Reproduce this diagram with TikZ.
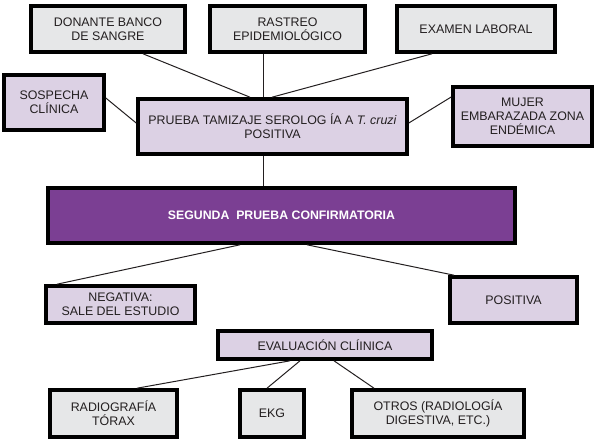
\documentclass[tikz,border=0pt]{standalone}
\usepackage{fontspec}
\setmainfont{Liberation Sans}
\definecolor{boxgray}{HTML}{E6E7E8}
\definecolor{lilac}{HTML}{DCD1E4}
\definecolor{deeppurple}{HTML}{7B3F93}
\definecolor{txt}{HTML}{231F20}
\begin{document}
\begin{tikzpicture}[x=1pt,y=-1pt,
  box/.style={draw=black, line width=3.6pt, rectangle, align=center, inner sep=0pt,
    text=txt, font=\fontsize{12.4}{14}\selectfont},
  graybox/.style={box, fill=boxgray},
  lilbox/.style={box, fill=lilac},
  darkbox/.style={box, fill=deeppurple, text=white, font=\fontsize{12.3}{14}\selectfont\bfseries},
  link/.style={draw=txt, line width=1pt}]
\useasboundingbox (0,0) rectangle (597,441);
\node[graybox, minimum width=154pt, minimum height=46pt] (don) at (108,29) {DONANTE BANCO\\DE SANGRE};
\node[graybox, minimum width=155pt, minimum height=46pt] (ras) at (287.5,29) {RASTREO\\EPIDEMIOLÓGICO};
\node[graybox, minimum width=158pt, minimum height=46pt] (exa) at (476,29) {EXAMEN LABORAL};
\node[lilbox, minimum width=100pt, minimum height=55pt] (sos) at (54,102.5) {SOSPECHA\\CLÍNICA};
\node[lilbox, minimum width=269pt, minimum height=55pt] (pru) at (272.5,126.5) {PRUEBA TAMIZAJE SEROLOG ÍA A \textit{T. cruzi}\\POSITIVA};
\node[lilbox, minimum width=139pt, minimum height=59pt] (muj) at (522.5,116.5) {MUJER\\EMBARAZADA ZONA\\ENDÉMICA};
\node[darkbox, minimum width=467pt, minimum height=55pt] (seg) at (281.5,215.5) {SEGUNDA\ \ PRUEBA CONFIRMATORIA};
\node[lilbox, minimum width=149pt, minimum height=37pt] (neg) at (120.5,304.5) {NEGATIVA:\\SALE DEL ESTUDIO};
\node[lilbox, minimum width=127pt, minimum height=46pt] (pos) at (513.5,300) {POSITIVA};
\node[lilbox, minimum width=214pt, minimum height=28pt] (eva) at (325,345) {EVALUACIÓN CLÍINICA};
\node[graybox, minimum width=127pt, minimum height=47pt] (rad) at (113.5,413.5) {RADIOGRAFÍA\\TÓRAX};
\node[graybox, minimum width=64pt, minimum height=47pt] (ekg) at (272,413.5) {EKG};
\node[graybox, minimum width=172pt, minimum height=47pt] (otr) at (438,413.5) {OTROS (RADIOLOGÍA\\DIGESTIVA, ETC.)};
\draw[link] ([xshift=35pt]don.south) -- ([xshift=-22.5pt]pru.north);
\draw[link] ([xshift=-24.5pt]ras.south) -- ([xshift=-9.5pt]pru.north);
\draw[link] ([xshift=-44pt]exa.south) -- ([xshift=-0.5pt]pru.north);
\draw[link] ([yshift=4.5pt]sos.east) -- ([yshift=3.5pt]pru.west);
\draw[link] ([yshift=19.5pt]muj.west) -- ([yshift=3.5pt]pru.east);
\draw[link] ([xshift=-9.5pt]pru.south) -- ([xshift=-18.5pt]seg.north);
\draw[link] ([xshift=-41.5pt]seg.south) -- ([xshift=-63.5pt]neg.north);
\draw[link] ([xshift=25.5pt]seg.south) -- ([xshift=-59.5pt]pos.north);
\draw[link] ([xshift=-35pt]eva.south) -- ([xshift=23.5pt]rad.north);
\draw[link] ([xshift=-25pt]eva.south) -- ([xshift=-5pt]ekg.north);
\draw[link] ([xshift=9pt]eva.south) -- ([xshift=-64pt]otr.north);
\end{tikzpicture}
\end{document}
